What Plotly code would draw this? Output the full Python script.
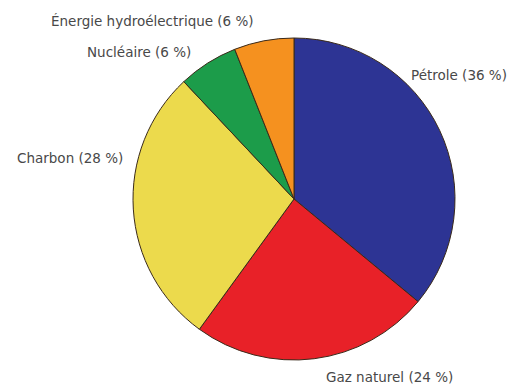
import plotly.graph_objects as go

labels = ["Pétrole", "Gaz naturel", "Charbon", "Nucléaire", "Énergie hydroélectrique"]
shares = [36, 24, 28, 6, 6]
colors = ["#2d3494", "#e82128", "#ecda4c", "#1c9c4a", "#f5911f"]

W, H = 516, 388

fig = go.Figure(go.Pie(
    labels=labels,
    values=shares,
    sort=False,
    direction="clockwise",
    rotation=0,
    marker=dict(colors=colors, line=dict(color="#3a2a1a", width=1)),
    textinfo="none",
    hoverinfo="label+percent",
    domain=dict(x=[132 / W, 456 / W], y=[1 - 360 / H, 1 - 38 / H]),
    showlegend=False,
))

# outside labels: (label index, x px, y px)
label_pos = [
    (0, 459, 75),
    (1, 389, 377),
    (2, 70, 158),
    (3, 139, 52),
    (4, 152, 21),
]
annotations = []
for i, x, y in label_pos:
    annotations.append(dict(
        x=x / W, y=1 - y / H, xref="paper", yref="paper",
        text=f"{labels[i]} ({shares[i]} %)",
        showarrow=False, xanchor="center", yanchor="middle",
        font=dict(family="DejaVu Sans", size=13.5, color="#484848"),
    ))

fig.update_layout(
    width=W, height=H,
    margin=dict(l=0, r=0, t=0, b=0),
    paper_bgcolor="white",
    annotations=annotations,
)

fig.write_html("out.html")
